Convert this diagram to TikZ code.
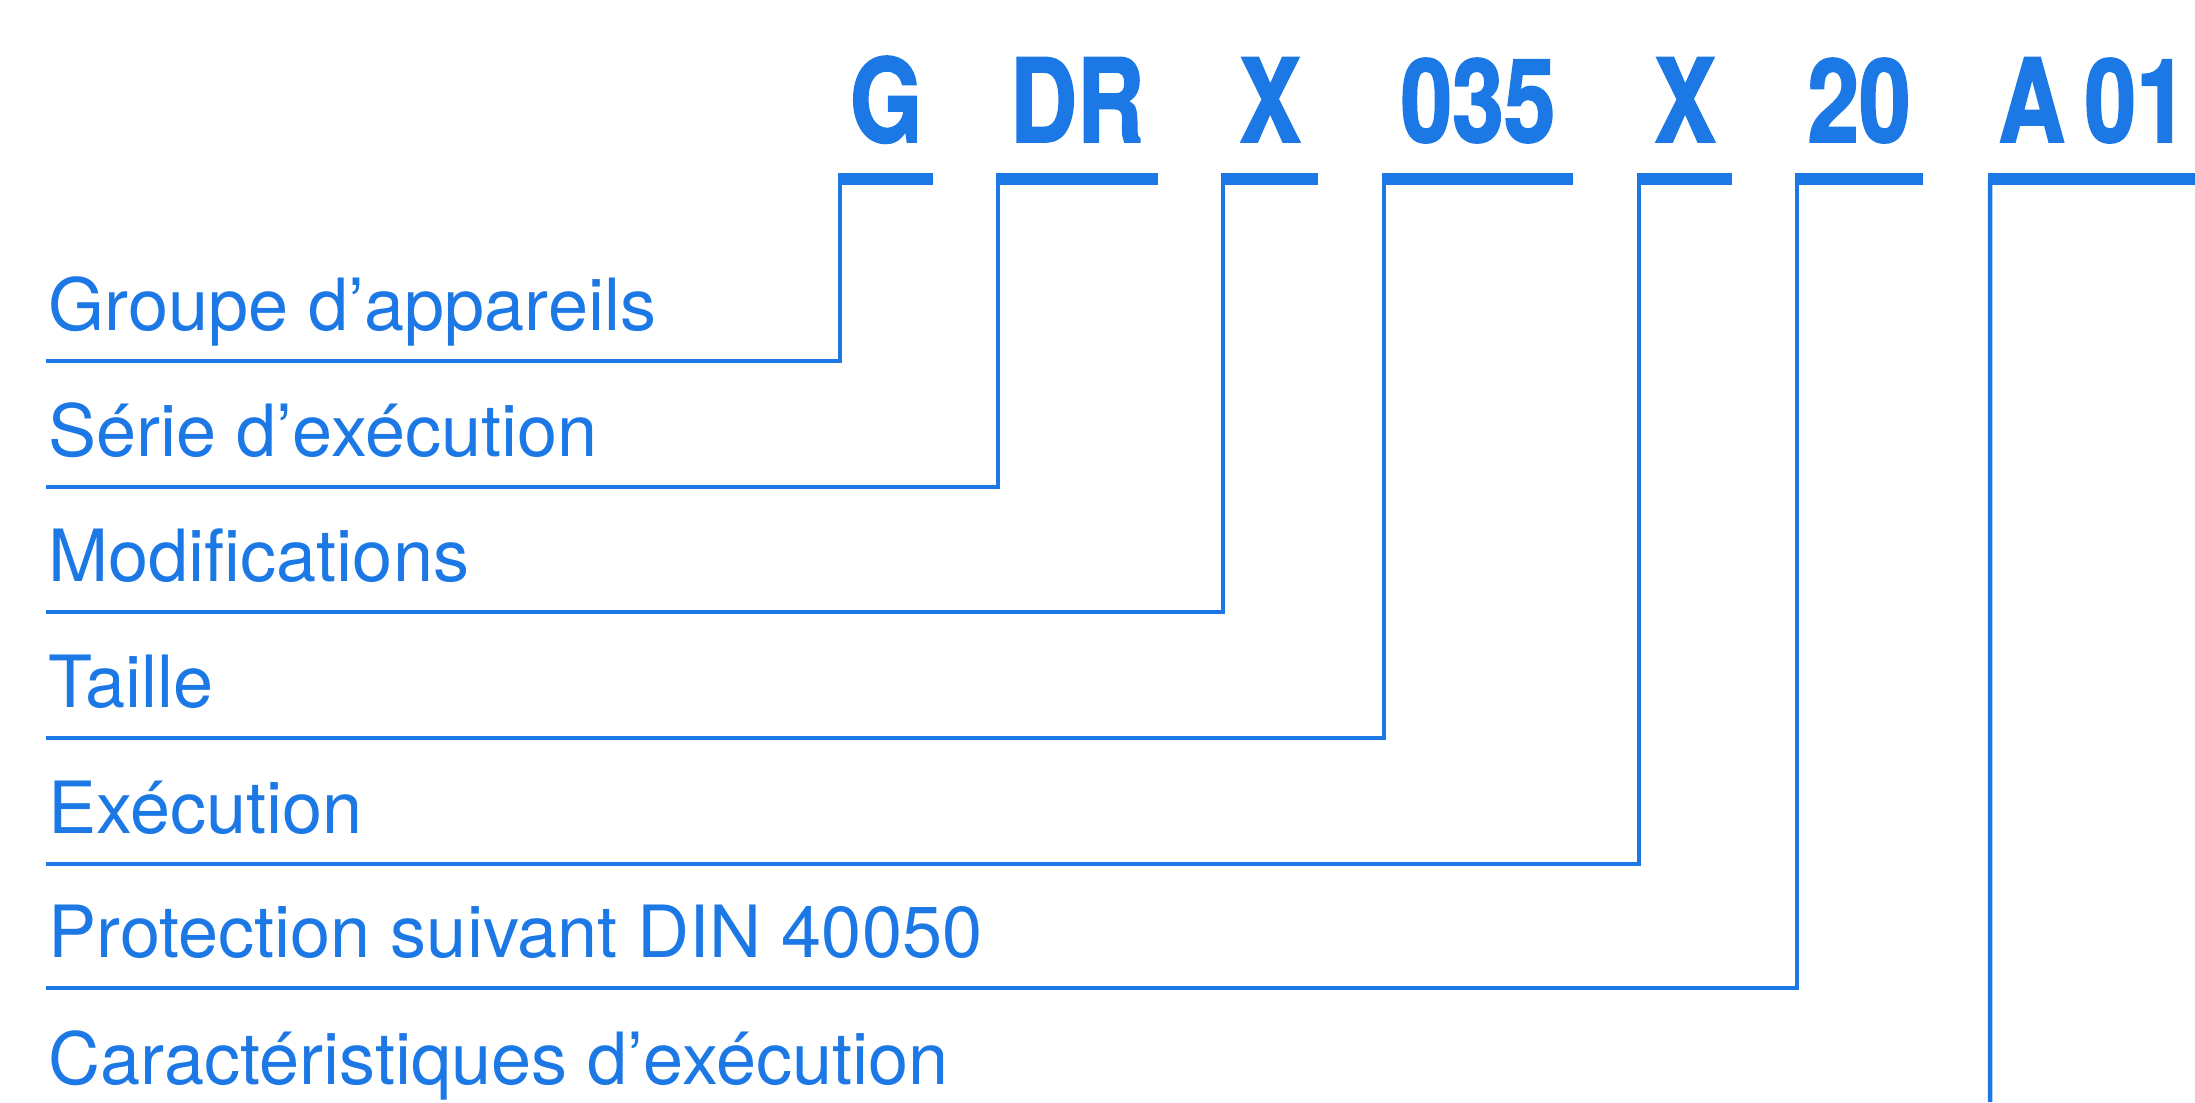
\documentclass[tikz,border=0pt]{standalone}
\usepackage{fontspec}
\setmainfont{TeX Gyre Heros}
\newfontfamily\codefont[FakeStretch=0.8,BoldFeatures={FakeBold=1.5}]{TeX Gyre Heros}
\definecolor{codeblue}{RGB}{28,120,228}

\begin{document}
\begin{tikzpicture}[
  code/.style={text=codeblue,inner sep=0pt,anchor=base,
    font=\codefont\bfseries\fontsize{33}{33}\selectfont},
  lbl/.style={text=codeblue,inner sep=0pt,anchor=base west,
    font=\fontsize{20.5}{24}\selectfont},
  bar/.style={codeblue,line width=3.4pt},
  conn/.style={codeblue,line width=1.3pt}]
  \useasboundingbox (0,0) rectangle (21.95,-11.02);

  % left ends of the bars under the code
  \coordinate (bg)   at (8.38,-1.79);
  \coordinate (bdr)  at (9.96,-1.79);
  \coordinate (bx)   at (12.21,-1.79);
  \coordinate (bsz)  at (13.82,-1.79);
  \coordinate (bex)  at (16.37,-1.79);
  \coordinate (bip)  at (17.95,-1.79);
  \coordinate (ba)   at (19.88,-1.79);

  % the code itself
  \node[code] (g)   at (8.86,-1.42)  {G};
  \node[code] (dr)  at (10.77,-1.42) {DR};
  \node[code] (x)   at (12.70,-1.42) {X};
  \node[code] (sz)  at (14.78,-1.42) {035};
  \node[code] (ex)  at (16.85,-1.42) {X};
  \node[code] (ip)  at (18.59,-1.42) {20};
  \node[code] (a)   at (20.93,-1.42) {A\,01};

  \draw[bar] (bg)  -- ++(0.95,0);
  \draw[bar] (bdr) -- ++(1.62,0);
  \draw[bar] (bx)  -- ++(0.97,0);
  \draw[bar] (bsz) -- ++(1.91,0);
  \draw[bar] (bex) -- ++(0.95,0);
  \draw[bar] (bip) -- ++(1.28,0);
  \draw[bar] (ba)  -- (21.95,-1.79);

  % rows
  \coordinate (hg)  at (0.46,-3.61);
  \coordinate (hdr) at (0.46,-4.87);
  \coordinate (hx)  at (0.46,-6.12);
  \coordinate (hsz) at (0.46,-7.38);
  \coordinate (hex) at (0.46,-8.64);
  \coordinate (hip) at (0.46,-9.88);
  \coordinate (ha)  at (19.90,-11.02);

  \node[lbl] (lg)  at (0.48,-3.30)  {Groupe d’appareils};
  \node[lbl] (ldr) at (0.48,-4.56)  {Série d’exécution};
  \node[lbl] (lx)  at (0.48,-5.81)  {Modifications};
  \node[lbl] (lsz) at (0.48,-7.07)  {Taille};
  \node[lbl] (lex) at (0.48,-8.33)  {Exécution};
  \node[lbl] (lip) at (0.48,-9.57)  {Protection suivant DIN 40050};
  \node[lbl] (la)  at (0.48,-10.84) {Caractéristiques d’exécution};

  \draw[conn] ([xshift=0.02cm]bg)  |- (hg);
  \draw[conn] ([xshift=0.02cm]bdr) |- (hdr);
  \draw[conn] ([xshift=0.02cm]bx)  |- (hx);
  \draw[conn] ([xshift=0.02cm]bsz) |- (hsz);
  \draw[conn] ([xshift=0.02cm]bex) |- (hex);
  \draw[conn] ([xshift=0.02cm]bip) |- (hip);
  \draw[conn] ([xshift=0.02cm]ba)  -- (ha);
\end{tikzpicture}
\end{document}
